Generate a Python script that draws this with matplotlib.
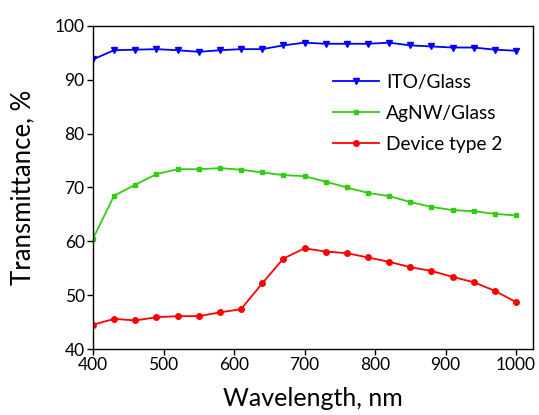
import matplotlib
matplotlib.use('Agg')
import matplotlib.pyplot as plt

plt.rcParams['font.family'] = ['Lato', 'DejaVu Sans']

wavelength = [400, 430, 460, 490, 520, 550, 580, 610, 640, 670, 700,
              730, 760, 790, 820, 850, 880, 910, 940, 970, 1000]

ito_glass = [93.8, 95.5, 95.6, 95.7, 95.5, 95.2, 95.5, 95.7, 95.7, 96.4, 96.9,
             96.7, 96.7, 96.7, 96.9, 96.4, 96.2, 96.0, 96.0, 95.6, 95.4]

agnw_glass = [60.5, 68.5, 70.5, 72.5, 73.4, 73.4, 73.6, 73.3, 72.8, 72.3, 72.1,
              71.1, 70.0, 69.0, 68.4, 67.3, 66.4, 65.8, 65.6, 65.1, 64.8]

device_2 = [44.5, 45.6, 45.3, 45.9, 46.1, 46.1, 46.8, 47.4, 52.2, 56.8, 58.7,
            58.1, 57.8, 57.0, 56.2, 55.2, 54.5, 53.4, 52.4, 50.8, 48.7]


def main():
    fig = plt.figure(figsize=(5.39, 4.15), dpi=100)
    ax = fig.add_axes([93 / 539, 1 - 349 / 415, 440 / 539, 323 / 415])

    ax.plot(wavelength, ito_glass, color='#0000ff', marker='v', markersize=4,
            linewidth=1.3, label='ITO/Glass')
    ax.plot(wavelength, agnw_glass, color='#33cc11', marker='s', markersize=3.5,
            linewidth=1.3, label='AgNW/Glass')
    ax.plot(wavelength, device_2, color='#ff0000', marker='o', markersize=4,
            linewidth=1.3, label='Device type 2')

    ax.set_xlim(400, 1024)
    ax.set_ylim(40, 100)
    ax.set_xticks([400, 500, 600, 700, 800, 900, 1000])
    ax.set_yticks([40, 50, 60, 70, 80, 90, 100])
    ax.tick_params(direction='out', length=4, width=1, labelsize=12.5,
                   top=False, right=False, pad=2)
    for s in ax.spines.values():
        s.set_linewidth(1)

    ax.set_xlabel('Wavelength, nm', fontsize=18, labelpad=10)
    ax.set_ylabel('Transmittance, %', fontsize=18.5, labelpad=14)

    ax.legend(loc='upper right', bbox_to_anchor=(0.97, 0.905), frameon=False,
              fontsize=13.8, handlelength=2.4, handletextpad=0.4, labelspacing=0.72)

    fig.savefig('out.png', dpi=100)


if __name__ == '__main__':
    main()
